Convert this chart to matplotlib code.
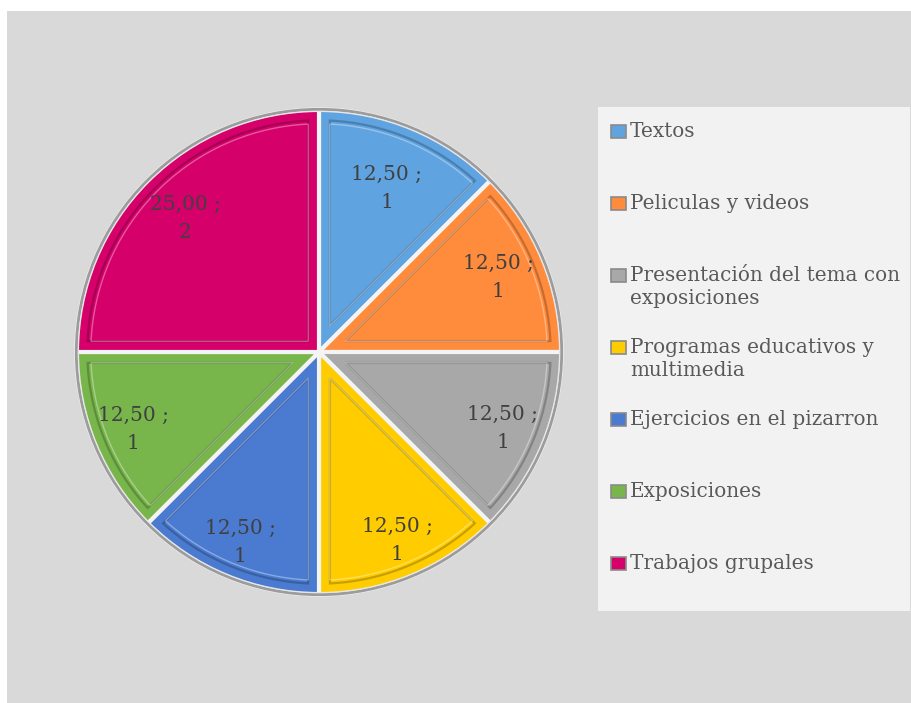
import numpy as np
import matplotlib.pyplot as plt
import matplotlib.colors as mcolors
from matplotlib.patches import Rectangle, Circle, Polygon

categories = ['Textos', 'Peliculas y videos', 'Presentación del tema con\nexposiciones',
              'Programas educativos y\nmultimedia', 'Ejercicios en el pizarron',
              'Exposiciones', 'Trabajos grupales']
counts = [1, 1, 1, 1, 1, 1, 2]
colors = ['#5FA3E0', '#FF8B3D', '#A8A8A8', '#FFCC00', '#4A7BD0', '#78B64C', '#D6006B']
# radial position of each data label (fraction of radius)
label_dist = [0.73, 0.80, 0.82, 0.84, 0.85, 0.83, 0.78]

plt.rcParams['font.family'] = ['DejaVu Serif']

W, H = 912, 703
fig = plt.figure(figsize=(W / 100, H / 100), dpi=100)
fig.patch.set_facecolor('white')

# gray chart area
fig.patches.append(Rectangle((7 / W, 0), (W - 7) / W, (H - 11) / H, transform=fig.transFigure,
                             facecolor='#d9d9d9', edgecolor='none', zorder=0))
# legend area
fig.patches.append(Rectangle((598 / W, 1 - 611 / H), 312 / W, 504 / H, transform=fig.transFigure,
                             facecolor='#f2f2f2', edgecolor='none', zorder=0))

ax = fig.add_axes([74 / W, 1 - 597 / H, 490 / W, 490 / H])
ax.set_zorder(5)
ax.set_facecolor('none')
total = sum(counts)


def fmt(pct):
    n = int(round(pct * total / 100))
    return f"{pct:.2f}".replace('.', ',') + ' ;\n' + str(n)


wedges, texts, autotexts = ax.pie(counts, colors=colors, startangle=90, counterclock=False,
                                  radius=1.0, autopct=fmt, pctdistance=0.74,
                                  wedgeprops=dict(edgecolor='#f4f4f4', linewidth=3),
                                  textprops=dict(fontsize=14.5, color='#404040'))


def darker(c, f):
    r, g, b = mcolors.to_rgb(c)
    return (r * f, g * f, b * f)


# bevel-ish inner outline and label placement
for w, t, d, col in zip(wedges, autotexts, label_dist, colors):
    t1, t2 = np.radians(w.theta1), np.radians(w.theta2)
    mid = (t1 + t2) / 2
    half = (t2 - t1) / 2
    t.set_position((d * np.cos(mid), d * np.sin(mid)))
    t.set_linespacing(1.6)
    t.set_zorder(6)
    inset = 0.045
    corner = inset / np.sin(half)
    r_in = 1.0 - inset
    da = np.arcsin(inset / r_in)
    arc = np.linspace(t1 + da, t2 - da, 60)
    pts = [(corner * np.cos(mid), corner * np.sin(mid))] + [(r_in * np.cos(a), r_in * np.sin(a)) for a in arc]
    ax.add_patch(Polygon(pts, closed=True, fill=False, edgecolor=darker(col, 0.78), linewidth=1.6, zorder=4))
    pts2 = [(x * 0.985, y * 0.985) for x, y in pts]
    ax.add_patch(Polygon(pts2, closed=True, fill=False, edgecolor=mcolors.to_rgba('white', 0.35),
                         linewidth=1.0, zorder=4))

# outer rim
ax.add_patch(Circle((0, 0), 1.0, fill=False, edgecolor='#9c9c9c', linewidth=2.2, zorder=3))
ax.add_patch(Circle((0, 0), 0.992, fill=False, edgecolor='#e6e6e6', linewidth=1.0, zorder=3))
ax.set_xlim(-1.01, 1.01)
ax.set_ylim(-1.01, 1.01)
ax.set_aspect('equal')
ax.axis('off')

# legend drawn by hand
for i, (lab, col) in enumerate(zip(categories, colors)):
    y = 132 + 72 * i
    fig.patches.append(Rectangle((611 / W, 1 - (y + 6) / H), 15 / W, 13 / H, transform=fig.transFigure,
                                 facecolor=col, edgecolor='#8a8a8a', linewidth=1.2, zorder=2))
    fig.text(630 / W, 1 - (y - 10) / H, lab, ha='left', va='top', fontsize=14.4, color='#595959',
             linespacing=1.25)

fig.savefig('out.png', dpi=100)
